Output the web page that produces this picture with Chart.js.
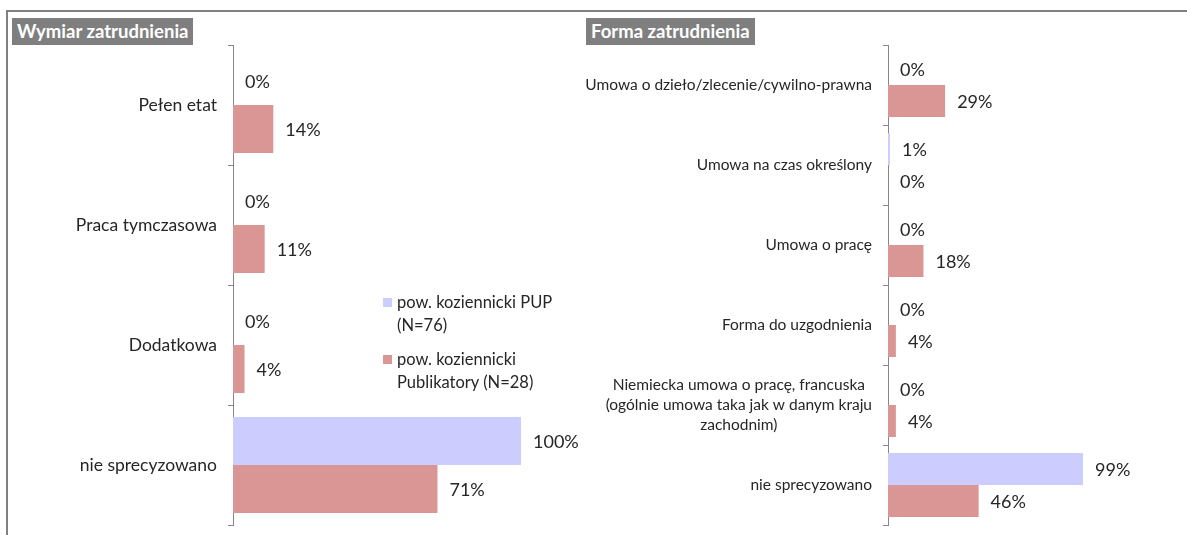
<!DOCTYPE html>
<html>
<head>
<meta charset="utf-8">
<script src="https://cdn.jsdelivr.net/npm/chart.js@4.4.1/dist/chart.umd.min.js"></script>
<style>
  html, body { margin: 0; padding: 0; background: #fff; }
  #page { position: relative; width: 1187px; height: 535px; overflow: hidden; font-family: Lato, sans-serif; }
  #frame { position: absolute; left: 6px; top: 10px; width: 1200px; height: 540px;
           border-top: 2px solid #808080; border-left: 2px solid #808080; }
  .title { position: absolute; top: 18px; height: 27px; line-height: 27px; background: #7f7f7f;
           color: #fff; font-weight: bold; font-size: 18.5px; padding: 0 5px; white-space: nowrap; }
  canvas { position: absolute; }
  #legend { position: absolute; left: 383px; top: 291px; font-size: 16.5px; color: #262626; line-height: 23px; }
  .item { position: relative; padding-left: 14px; margin-bottom: 11px; }
  .item i { position: absolute; left: 0; top: 7px; width: 9px; height: 9px; }
</style>
</head>
<body>
<div id="page">
  <div id="frame"></div>
  <div class="title" style="left:12px">Wymiar zatrudnienia</div>
  <div class="title" style="left:586px">Forma zatrudnienia</div>
  <canvas id="right" width="627" height="505" style="left:560px;top:30px"></canvas>
  <canvas id="left" width="580" height="505" style="left:10px;top:30px"></canvas>
  <div id="legend"></div>
</div>
<script>
const seriesNames = [['pow. koziennicki PUP', '(N=76)'], ['pow. koziennicki', 'Publikatory (N=28)']];
const seriesColors = ['#ccccff', '#da9694'];

const wymiarLabels = ['Pełen etat', 'Praca tymczasowa', 'Dodatkowa', 'nie sprecyzowano'];
const wymiarPup = [0, 0, 0, 100];
const wymiarPubl = [14, 11, 4, 71];

const formaLabels = [
  'Umowa o dzieło/zlecenie/cywilno-prawna',
  'Umowa na czas określony',
  'Umowa o pracę',
  'Forma do uzgodnienia',
  ['Niemiecka umowa o pracę, francuska', '(ogólnie umowa taka jak w danym kraju', 'zachodnim)'],
  'nie sprecyzowano'
];
const formaPup = [0, 1, 0, 0, 0, 99];
const formaPubl = [29, 0, 18, 4, 4, 46];

const TEXT = '#262626';
const AXIS = '#868686';

// value labels right of each bar, category labels drawn centered per line
const labelsPlugin = {
  id: 'labels',
  afterDraw(chart) {
    const ctx = chart.ctx;
    const catSize = chart.options.catFontSize;
    ctx.save();
    ctx.fillStyle = TEXT;
    ctx.textBaseline = 'middle';
    ctx.font = '18px Lato';
    ctx.textAlign = 'left';
    chart.data.datasets.forEach((ds, di) => {
      chart.getDatasetMeta(di).data.forEach((bar, i) => {
        ctx.fillText(ds.data[i] + '%', bar.x + 12, bar.y + 1);
      });
    });
    const y = chart.scales.y;
    ctx.font = catSize + 'px Lato';
    ctx.textAlign = 'center';
    const right = y.right - 16;
    chart.data.labels.forEach((lab, i) => {
      const lines = Array.isArray(lab) ? lab : [lab];
      const w = Math.max(...lines.map(l => ctx.measureText(l).width));
      const cy = y.getPixelForValue(i);
      const lh = 20;
      lines.forEach((l, k) => {
        ctx.fillText(l, right - w / 2, cy + (k - (lines.length - 1) / 2) * lh);
      });
    });
    ctx.restore();
  }
};

function makeChart(id, labels, pup, publ, axisWidth, padRight, catFontSize) {
  return new Chart(document.getElementById(id), {
    type: 'bar',
    data: {
      labels: labels,
      datasets: [
        { data: pup, backgroundColor: seriesColors[0] },
        { data: publ, backgroundColor: seriesColors[1] }
      ]
    },
    options: {
      catFontSize: catFontSize,
      indexAxis: 'y',
      responsive: false,
      animation: false,
      events: [],
      layout: { padding: { top: 15, bottom: 10, left: 0, right: padRight } },
      datasets: { bar: { categoryPercentage: 0.8, barPercentage: 1.0 } },
      scales: {
        x: { display: false, min: 0, max: 100 },
        y: {
          afterFit: s => { s.width = axisWidth; },
          grid: { drawOnChartArea: false, drawTicks: true, tickLength: 5, color: AXIS },
          border: { color: AXIS },
          ticks: { display: false }
        }
      },
      plugins: { legend: { display: false }, tooltip: { enabled: false } }
    },
    plugins: [labelsPlugin]
  });
}

makeChart('left', wymiarLabels, wymiarPup, wymiarPubl, 223, 69, 17.5);
makeChart('right', formaLabels, formaPup, formaPubl, 328, 102, 15.5);

const legend = document.getElementById('legend');
seriesNames.forEach((name, i) => {
  const d = document.createElement('div');
  d.className = 'item';
  d.innerHTML = '<i style="background:' + seriesColors[i] + '"></i>' + name.join('<br>');
  legend.appendChild(d);
});
</script>
</body>
</html>
